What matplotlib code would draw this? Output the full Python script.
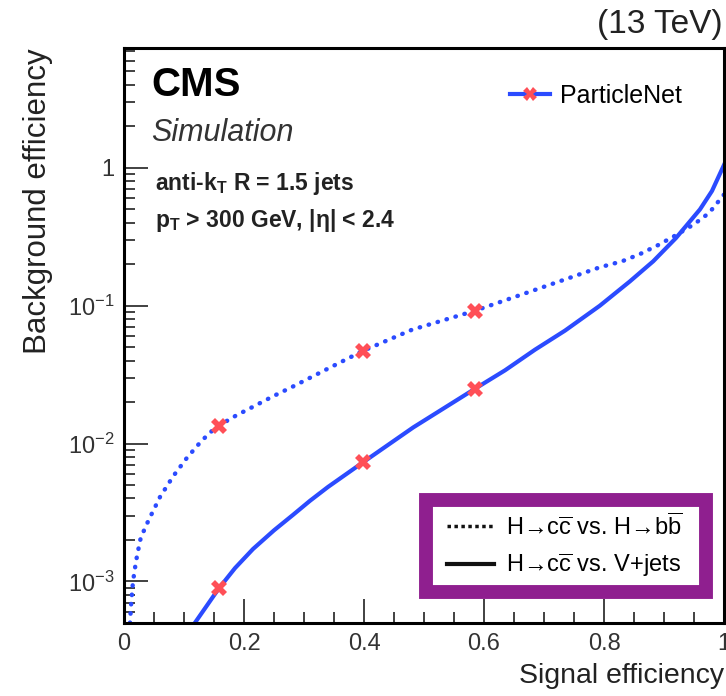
import numpy as np
import matplotlib.pyplot as plt
from matplotlib.lines import Line2D
from matplotlib.patches import Rectangle
from matplotlib.ticker import MultipleLocator, FixedLocator, FixedFormatter, LogLocator, NullFormatter

plt.rcParams['font.family'] = ['Liberation Sans', 'DejaVu Sans']
plt.rcParams['mathtext.fontset'] = 'custom'
plt.rcParams['mathtext.rm'] = 'Liberation Sans'
plt.rcParams['mathtext.it'] = 'Liberation Sans:italic'
plt.rcParams['mathtext.bf'] = 'Liberation Sans:bold'

# H->cc vs H->bb (dotted)
sig_cb = [0.010, 0.012, 0.015, 0.020, 0.027, 0.035, 0.043, 0.060, 0.082, 0.105, 0.127, 0.143, 0.158,
          0.187, 0.215, 0.248, 0.282, 0.340, 0.398, 0.480, 0.585, 0.680, 0.793, 0.830, 0.860,
          0.890, 0.920, 0.950, 0.975, 1.0]
bkg_cb = [5.0e-4, 7.0e-4, 1.0e-3, 1.4e-3, 2.0e-3, 2.45e-3, 2.9e-3, 4.1e-3, 5.8e-3, 7.9e-3, 1.02e-2, 1.2e-2, 1.35e-2,
          1.6e-2, 1.85e-2, 2.2e-2, 2.6e-2, 3.5e-2, 4.7e-2, 6.7e-2, 9.2e-2, 0.128, 0.19, 0.21, 0.237,
          0.275, 0.325, 0.39, 0.47, 0.64]

# H->cc vs V+jets (solid)
sig_cv = [0.118, 0.158, 0.185, 0.215, 0.250, 0.282, 0.310, 0.340, 0.398, 0.482, 0.585, 0.635, 0.685,
          0.735, 0.793, 0.843, 0.882, 0.920, 0.960, 0.980, 1.0]
bkg_cv = [5.0e-4, 8.9e-4, 1.25e-3, 1.72e-3, 2.35e-3, 3.05e-3, 3.85e-3, 4.85e-3, 7.3e-3, 1.31e-2, 2.5e-2, 3.4e-2, 4.8e-2,
          6.6e-2, 0.10, 0.15, 0.21, 0.31, 0.50, 0.68, 1.05]

# working points (red markers)
wp_sig = [0.158, 0.398, 0.585]
wp_cb = [1.35e-2, 4.7e-2, 9.2e-2]
wp_cv = [8.9e-4, 7.3e-3, 2.5e-2]

blue = '#2b4bff'
red = '#ff4f57'
purple = '#8f1f8f'

fig = plt.figure(figsize=(7.26, 6.96), dpi=100)
ax = fig.add_axes([124 / 726, 73 / 696, 600 / 726, 575 / 696])

ax.plot(sig_cb, bkg_cb, ls=(0, (0.1, 2.0)), dash_capstyle='round', color=blue, lw=3.2)
ax.plot(sig_cv, bkg_cv, '-', color=blue, lw=3.0)
ax.plot(wp_sig, wp_cb, 'X', color=red, ms=11, mew=0, ls='none')
ax.plot(wp_sig, wp_cv, 'X', color=red, ms=11, mew=0, ls='none')

ax.set_yscale('log')
ax.set_xlim(0, 1)
ax.set_ylim(5e-4, 7.4)

ax.xaxis.set_minor_locator(MultipleLocator(0.05))
ax.set_xticks([0, 0.2, 0.4, 0.6, 0.8, 1.0])
ax.set_xticklabels(['0', '0.2', '0.4', '0.6', '0.8', '1'])
ax.yaxis.set_major_locator(FixedLocator([1e-3, 1e-2, 1e-1, 1]))
ax.yaxis.set_major_formatter(FixedFormatter(['$10^{-3}$', '$10^{-2}$', '$10^{-1}$', '1']))
ax.yaxis.set_minor_locator(LogLocator(base=10, subs=np.arange(2, 10)))
ax.yaxis.set_minor_formatter(NullFormatter())

ax.tick_params(which='both', direction='in', top=False, right=False, labelsize=17,
               colors='#333333', labelcolor='#333333', width=1.3)
ax.tick_params(which='major', length=17, pad=7)
ax.tick_params(which='minor', length=8)
for s in ax.spines.values():
    s.set_linewidth(2.2)

ax.set_xlabel('Signal efficiency', fontsize=20.5, color='#222222')
ax.xaxis.set_label_coords(1.0, -0.092)
ax.xaxis.label.set_horizontalalignment('right')
ax.xaxis.label.set_verticalalignment('center')
ax.set_ylabel('Background efficiency', fontsize=22.5, color='#222222')
ax.yaxis.set_label_coords(-0.143, 1.0)
ax.yaxis.label.set_verticalalignment('center')
ax.yaxis.label.set_horizontalalignment('right')

fig.text(723 / 726, 1 - 25 / 696, '(13 TeV)', ha='right', va='center', fontsize=24, color='#222222')

ax.text(0.046, 0.935, 'CMS', transform=ax.transAxes, fontsize=29, fontweight='bold', va='center')
ax.text(0.046, 0.852, 'Simulation', transform=ax.transAxes, fontsize=22, style='italic',
        va='center', color='#333333')
ax.text(0.052, 0.765, r'anti-k$_{\mathbf{T}}$ R = 1.5 jets', transform=ax.transAxes, fontsize=16.5,
        fontweight='bold', va='center', color='#222222')
ax.text(0.052, 0.700, r'p$_{\mathbf{T}}$ > 300 GeV, |$\mathbf{\eta}$| < 2.4', transform=ax.transAxes,
        fontsize=16.5, fontweight='bold', va='center', color='#222222')

h_pn = Line2D([], [], color=blue, lw=3.0, marker='X', ms=10, mfc=red, mec=red, mew=0)
leg1 = ax.legend([h_pn], ['ParticleNet'], loc='center left', bbox_to_anchor=(0.626, 0.917),
                 frameon=False, fontsize=18, handlelength=1.6, handletextpad=0.4, borderaxespad=0)
ax.add_artist(leg1)

h_dot = Line2D([], [], color='#111111', lw=2.5, ls=(0, (1, 1)))
h_sol = Line2D([], [], color='#111111', lw=3)
leg2 = ax.legend([h_dot, h_sol],
                 [r'H→c$\overline{\mathrm{c}}$ vs. H→b$\overline{\mathrm{b}}$',
                  r'H→c$\overline{\mathrm{c}}$ vs. V+jets'],
                 loc='center', bbox_to_anchor=(0.735, 0.134), frameon=False, fontsize=17,
                 handlelength=2.0, handletextpad=0.5, labelspacing=0.5)

ax.add_patch(Rectangle((0.503, 0.054), 0.467, 0.16, transform=ax.transAxes, fill=False,
                       edgecolor=purple, lw=10, zorder=5, joinstyle='miter'))

fig.savefig('out.png', dpi=100)
